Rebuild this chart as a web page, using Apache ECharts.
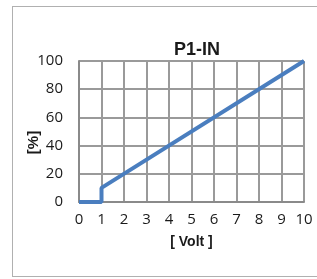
<!DOCTYPE html>
<html>
<head>
<meta charset="utf-8">
<script src="https://cdn.jsdelivr.net/npm/echarts@6/dist/echarts.min.js"></script>
<style>
  html, body { margin: 0; padding: 0; background: #fff; }
  #frame { position: absolute; left: 12px; top: 6px; width: 310px; height: 271px; border: 1px solid #b0b0b0; box-sizing: border-box; }
  #chart { position: absolute; left: 0; top: 0; width: 317px; height: 279px; }
</style>
</head>
<body>
<div id="frame"></div>
<div id="chart"></div>
<script>
// 曲线数据 (Volt -> %)
var voltValues = [0, 1, 1, 10];
var percentValues = [0, 0, 10, 100];
var xTicks = [0, 1, 2, 3, 4, 5, 6, 7, 8, 9, 10];
var yTicks = [0, 20, 40, 60, 80, 100];

var seriesData = voltValues.map(function (v, i) {
  return [v, percentValues[i]];
});

var myChart = echarts.init(document.getElementById("chart"));
myChart.setOption({
  animation: false,
  title: {
    text: "P1-IN",
    left: 192,
    textAlign: "center",
    top: 36,
    textStyle: { fontSize: 18, fontWeight: "bold", color: "#1a1a1a", fontFamily: "Liberation Sans" }
  },
  grid: { left: 79, right: 13, top: 61, bottom: 77 },
  xAxis: {
    type: "value",
    min: xTicks[0],
    max: xTicks[xTicks.length - 1],
    interval: 1,
    name: "[ Volt ]",
    nameLocation: "middle",
    nameGap: 33,
    nameMoveOverlap: false,
    nameTextStyle: { fontSize: 14, fontWeight: "bold", color: "#1a1a1a", fontFamily: "Liberation Sans" },
    axisLine: { lineStyle: { color: "#8a8a8a", width: 2 } },
    axisTick: { show: false },
    axisLabel: { fontSize: 15, color: "#1a1a1a", margin: 10, fontFamily: "Open Sans" },
    splitLine: { show: true, lineStyle: { color: "#9a9a9a", width: 2 } }
  },
  yAxis: {
    type: "value",
    min: yTicks[0],
    max: yTicks[yTicks.length - 1],
    interval: 20,
    name: "[%]",
    nameLocation: "middle",
    nameRotate: 90,
    nameGap: 38,
    nameMoveOverlap: false,
    nameTextStyle: { fontSize: 15, fontWeight: "bold", color: "#1a1a1a", fontFamily: "Liberation Sans", padding: [0, 22, 0, 0] },
    axisLine: { show: true, lineStyle: { color: "#8a8a8a", width: 2 } },
    axisTick: { show: false },
    axisLabel: { fontSize: 15, color: "#1a1a1a", margin: 16, fontFamily: "Open Sans" },
    splitLine: { show: true, lineStyle: { color: "#9a9a9a", width: 2 } }
  },
  series: [
    {
      type: "line",
      data: seriesData,
      symbol: "none",
      lineStyle: { color: "#4a7ebf", width: 4 },
      z: 5
    }
  ]
});
</script>
</body>
</html>
